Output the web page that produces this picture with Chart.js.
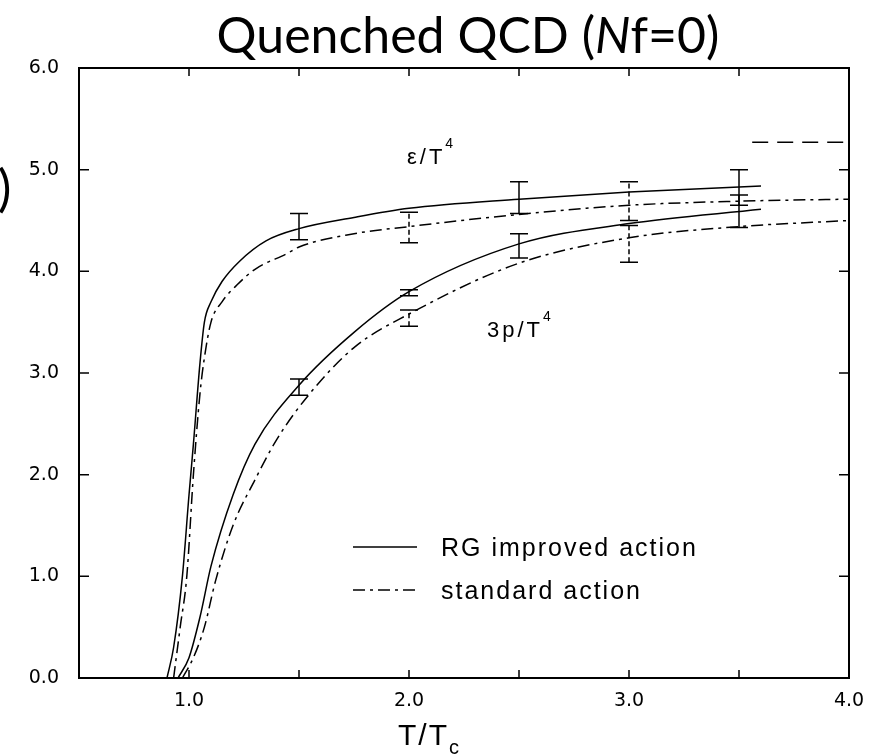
<!DOCTYPE html>
<html>
<head>
<meta charset="utf-8">
<script src="https://cdn.jsdelivr.net/npm/chart.js@4.4.0/dist/chart.umd.min.js"></script>
<style>
html, body { margin: 0; padding: 0; background: #fff; }
</style>
</head>
<body>
<canvas id="myChart" width="883" height="755"></canvas>
<script>
// axis ticks
const xTicks = [1, 2, 3, 4];
const xMinorTicks = [1.5, 2.5, 3.5];
const yTicks = [0, 1, 2, 3, 4, 5, 6];

// energy density e/T^4, RG improved action
const epsRGx = [0.90, 0.93, 0.97, 1.00, 1.02, 1.05, 1.07, 1.10, 1.15, 1.23, 1.35, 1.50, 1.75, 2.00, 2.50, 3.00, 3.60];
const epsRGy = [0.00, 0.30, 1.00, 1.80, 2.30, 3.10, 3.50, 3.70, 3.90, 4.10, 4.30, 4.42, 4.53, 4.62, 4.71, 4.78, 4.84];
// energy density e/T^4, standard action
const epsStdx = [0.93, 0.96, 0.99, 1.02, 1.05, 1.07, 1.10, 1.15, 1.22, 1.30, 1.45, 1.50, 1.75, 2.00, 2.50, 3.00, 3.50, 4.00];
const epsStdy = [0.00, 0.50, 1.00, 2.00, 2.80, 3.15, 3.50, 3.70, 3.87, 4.02, 4.18, 4.24, 4.37, 4.44, 4.56, 4.65, 4.69, 4.71];
// pressure 3p/T^4, RG improved action
const pRGx = [0.95, 1.00, 1.05, 1.10, 1.20, 1.30, 1.50, 1.75, 2.00, 2.50, 3.00, 3.60];
const pRGy = [0.00, 0.20, 0.60, 1.10, 1.80, 2.30, 2.88, 3.40, 3.80, 4.27, 4.47, 4.61];
// pressure 3p/T^4, standard action
const pStdx = [0.97, 1.02, 1.07, 1.12, 1.20, 1.30, 1.40, 1.55, 1.75, 2.00, 2.50, 3.00, 3.50, 4.00];
const pStdy = [0.00, 0.20, 0.50, 0.95, 1.50, 1.95, 2.35, 2.80, 3.25, 3.58, 4.08, 4.33, 4.44, 4.50];
// Stefan-Boltzmann limit
const sbX = [3.56, 4.00];
const sbY = [5.27, 5.27];

// error bars
const epsRGErrX = [1.5, 2.5, 3.5];
const epsRGErrLo = [4.31, 4.57, 4.65];
const epsRGErrHi = [4.57, 4.88, 5.00];
const epsStdErrX = [2.0, 3.0];
const epsStdErrLo = [4.28, 4.50];
const epsStdErrHi = [4.58, 4.88];
const pRGErrX = [1.5, 2.0, 2.5, 3.5];
const pRGErrLo = [2.78, 3.76, 4.13, 4.43];
const pRGErrHi = [2.94, 3.82, 4.37, 4.75];
const pStdErrX = [2.0, 3.0];
const pStdErrLo = [3.46, 4.09];
const pStdErrHi = [3.62, 4.45];

const seriesNames = ['RG improved action', 'standard action'];

const DASHDOT = [12, 5, 3, 5];
const tickFont = { family: 'DejaVu Sans', size: 19 };

function pts(xs, ys) {
    return xs.map((x, i) => ({ x: x, y: ys[i] }));
}

function lineSet(label, xs, ys, dash) {
    return {
        label: label,
        data: pts(xs, ys),
        showLine: true,
        borderColor: '#000',
        backgroundColor: '#000',
        borderWidth: 1.5,
        borderDash: dash,
        pointRadius: 0,
        tension: 0.4,
        cubicInterpolationMode: 'monotone'
    };
}

const errorBars = {
    id: 'errorBars',
    afterDatasetsDraw(chart) {
        const ctx = chart.ctx, xs = chart.scales.x, ys = chart.scales.y;
        const groups = [
            [epsRGErrX, epsRGErrLo, epsRGErrHi, []],
            [pRGErrX, pRGErrLo, pRGErrHi, []],
            [epsStdErrX, epsStdErrLo, epsStdErrHi, [5, 3]],
            [pStdErrX, pStdErrLo, pStdErrHi, [5, 3]]
        ];
        ctx.save();
        ctx.strokeStyle = '#000';
        ctx.lineWidth = 1.5;
        groups.forEach(g => {
            g[0].forEach((x, i) => {
                const px = xs.getPixelForValue(x);
                const lo = ys.getPixelForValue(g[1][i]);
                const hi = ys.getPixelForValue(g[2][i]);
                ctx.setLineDash(g[3]);
                ctx.beginPath();
                ctx.moveTo(px, lo);
                ctx.lineTo(px, hi);
                ctx.stroke();
                ctx.setLineDash([]);
                ctx.beginPath();
                ctx.moveTo(px - 9, lo); ctx.lineTo(px + 9, lo);
                ctx.moveTo(px - 9, hi); ctx.lineTo(px + 9, hi);
                ctx.stroke();
            });
        });
        ctx.restore();
    }
};

const frameAndText = {
    id: 'frameAndText',
    afterDraw(chart) {
        const ctx = chart.ctx, a = chart.chartArea;
        const xs = chart.scales.x, ys = chart.scales.y;
        ctx.save();
        // frame
        ctx.strokeStyle = '#000';
        ctx.lineWidth = 2;
        ctx.strokeRect(a.left, a.top, a.right - a.left, a.bottom - a.top);
        // inward ticks
        ctx.lineWidth = 1.5;
        ctx.beginPath();
        xTicks.concat(xMinorTicks).forEach(v => {
            const px = xs.getPixelForValue(v);
            ctx.moveTo(px, a.bottom); ctx.lineTo(px, a.bottom - 8);
            ctx.moveTo(px, a.top); ctx.lineTo(px, a.top + 8);
        });
        yTicks.forEach(v => {
            const py = ys.getPixelForValue(v);
            ctx.moveTo(a.left, py); ctx.lineTo(a.left + 10, py);
            ctx.moveTo(a.right, py); ctx.lineTo(a.right - 10, py);
        });
        ctx.stroke();

        ctx.fillStyle = '#000';
        ctx.textBaseline = 'alphabetic';

        // title
        const parts = [
            ['Quenched QCD (', 'normal'],
            ['N', 'italic'],
            ['f=0)', 'normal']
        ];
        let total = 0;
        parts.forEach(p => {
            ctx.font = p[1] + ' 50px Lato';
            total += ctx.measureText(p[0]).width;
        });
        let tx = 468 - total / 2;
        parts.forEach(p => {
            ctx.font = p[1] + ' 50px Lato';
            ctx.fillText(p[0], tx, 53);
            tx += ctx.measureText(p[0]).width;
        });
        // clipped y-axis title remnant
        ctx.font = '50px Lato';
        ctx.fillText(')', -2, 206);

        // x axis title T/Tc
        ctx.letterSpacing = '2px';
        ctx.font = '30px "Liberation Sans"';
        ctx.fillText('T/T', 398, 745);
        const w = ctx.measureText('T/T').width;
        ctx.font = '20px "Liberation Sans"';
        ctx.fillText('c', 398 + w, 754);

        // curve labels
        ctx.letterSpacing = '3px';
        ctx.font = '22px "Liberation Sans"';
        ctx.fillText('\u03b5/T', 407, 164);
        let w2 = ctx.measureText('\u03b5/T').width;
        ctx.font = '14px "Liberation Sans"';
        ctx.fillText('4', 407 + w2, 148);
        ctx.font = '22px "Liberation Sans"';
        ctx.fillText('3p/T', 487, 337);
        w2 = ctx.measureText('3p/T').width;
        ctx.font = '14px "Liberation Sans"';
        ctx.fillText('4', 487 + w2, 321);

        // legend
        const rows = [[seriesNames[0], [], 549], [seriesNames[1], DASHDOT, 592]];
        rows.forEach(r => {
            ctx.lineWidth = 1.5;
            ctx.setLineDash(r[1]);
            ctx.beginPath();
            ctx.moveTo(353, r[2] - 2);
            ctx.lineTo(417, r[2] - 2);
            ctx.stroke();
            ctx.setLineDash([]);
            ctx.font = '25px "Liberation Sans"';
            ctx.letterSpacing = '2px';
            ctx.textBaseline = 'middle';
            ctx.fillText(r[0], 441, r[2]);
        });
        ctx.restore();
    }
};

const config = {
    type: 'scatter',
    data: {
        datasets: [
            lineSet(seriesNames[0], epsRGx, epsRGy, []),
            lineSet(seriesNames[1], epsStdx, epsStdy, DASHDOT),
            lineSet(seriesNames[0], pRGx, pRGy, []),
            lineSet(seriesNames[1], pStdx, pStdy, DASHDOT),
            lineSet('SB limit', sbX, sbY, [16, 9])
        ]
    },
    options: {
        responsive: false,
        animation: false,
        layout: { padding: { top: 68, right: 34, left: 0, bottom: 0 } },
        plugins: {
            legend: { display: false },
            tooltip: { enabled: false },
            title: { display: false }
        },
        scales: {
            x: {
                type: 'linear',
                min: 0.5,
                max: 4,
                afterBuildTicks: s => { s.ticks = xTicks.map(v => ({ value: v })); },
                afterFit: s => { s.height = 77; },
                grid: { display: false, drawTicks: false },
                border: { display: false },
                ticks: {
                    color: '#000',
                    font: tickFont,
                    padding: 12,
                    maxRotation: 0,
                    callback: v => v.toFixed(1)
                }
            },
            y: {
                min: 0,
                max: 6,
                afterBuildTicks: s => { s.ticks = yTicks.map(v => ({ value: v })); },
                afterFit: s => { s.width = 79; },
                grid: { display: false, drawTicks: false },
                border: { display: false },
                ticks: {
                    color: '#000',
                    font: tickFont,
                    padding: 20,
                    callback: v => v.toFixed(1)
                }
            }
        }
    },
    plugins: [errorBars, frameAndText]
};

new Chart(document.getElementById('myChart'), config);
</script>
</body>
</html>
